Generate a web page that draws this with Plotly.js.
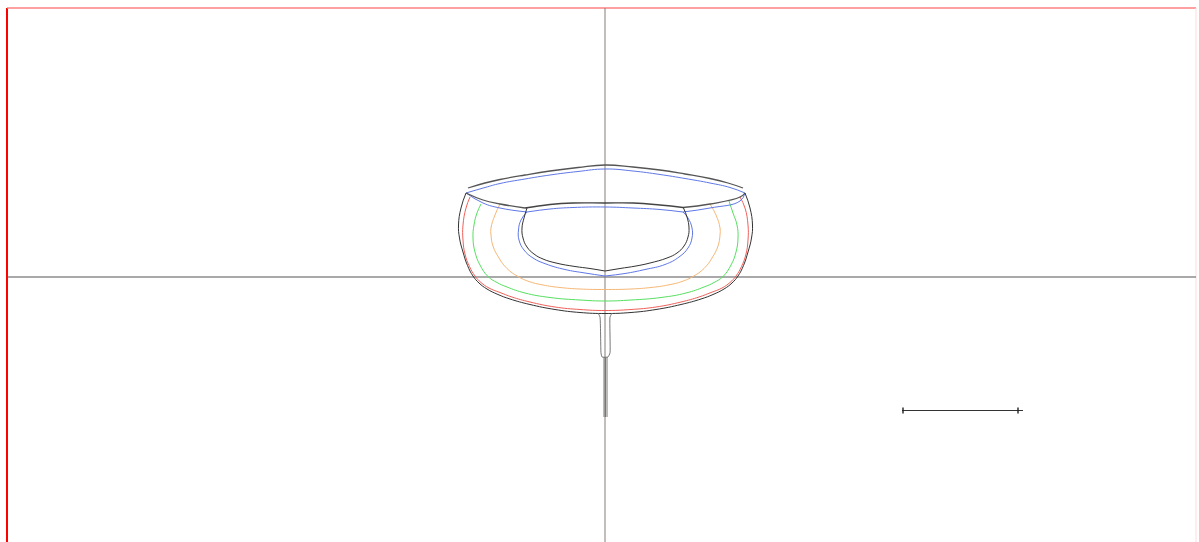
<!DOCTYPE html>
<html><head><meta charset="utf-8">
<script src="https://cdn.plot.ly/plotly-3.0.1.min.js"></script>
<style>html,body{margin:0;padding:0;background:#fff}#c{width:1199px;height:542px}</style>
</head><body><div id="c"></div>
<script>
// Section values, in picture units
const sheerBlackX=[468,485,500,525,550,578,605,633,660,685,710,728,743];
const sheerBlackY=[188,183,179.5,175,171,167.5,165,167,170,174,178.5,183,188];
const sheerBlueX=[466,485,500,525,550,578,605,633,660,685,710,730,745];
const sheerBlueY=[193,187.5,183.5,179,175,171.5,169,171,174.5,178.5,183,187.5,193];
const deckLeftX=[466,483,500,525];
const deckLeftY=[193,200,204,208];
const deckMidX=[525,550,573,605,633,660,683];
const deckMidY=[208,204.5,203,203,203,205,207.5];
const deckRightX=[683,710,740,745];
const deckRightY=[207.5,204,197,193];
const deckBlueLeftX=[466,483,500,527];
const deckBlueLeftY=[193,203,208,212];
const deckBlueMidX=[527,550,573,605,633,660,683];
const deckBlueMidY=[212,209,207.5,207,208,209.5,212];
const deckBlueRightX=[683,710,740,745];
const deckBlueRightY=[212,208,201,193];
const hullX=[466,461,458.5,459.5,463,467.5,473,479,487,498,510,530,555,580,605,631,656,681,701,713,724,732,738,743.5,748,751.5,752.5,750,745];
const hullY=[193,208,225,238,252,265.5,276,283,289,294.5,299,304.5,309.5,312.5,313.5,312.5,309.5,304.5,299,294.5,289,283,276,265.5,252,238,225,208,193];
const redX=[470,466,463,463,465,469.5,475,481,489,500,512,530,555,580,605,631,656,681,699,711,722,730,736,741.5,746,748,748,745,740];
const redY=[197,208,225,240,254,266.5,276,282.5,288,292.5,297,302,307,309.5,310.5,309.5,307,302,297,292.5,288,282.5,276,266.5,254,240,225,208,197];
const greenX=[481,477,474,473,475,480,488,497,507,525,550,580,605,631,661,686,704,714,723,731,736,738,737,733,729];
const greenY=[204,213,225,238,252,265,276.5,282.5,287,293,297.5,300,301,300,297.5,293,287,282.5,276.5,265,252,238,225,213,201];
const orangeX=[500,495,491,491,493,499,507,518,529,543,560,580,605,631,651,668,682,693,704,712,718,720,720,716,710];
const orangeY=[204,215,228,235,246,258,268.5,276.5,281.5,285,287.5,289,289.5,289,287.5,285,281.5,276.5,268.5,258,246,235,228,215,204];
const innerBlueLeftX=[527,521,518.5,519,524,533,546,565,585,605];
const innerBlueLeftY=[212,220,230,240,250,258,264,269.5,273,276];
const innerBlueRightX=[605,625,645,665,679,688,692,692,688,683];
const innerBlueRightY=[276,273.5,269.5,264.5,257,248,238,228,218,212];
const innerBlackLeftX=[527,524,522,523,527,534,543,556,575,590,605];
const innerBlackLeftY=[208,218,228,238,247,254,259,263,266.5,268.5,271];
const innerBlackRightX=[605,620,636,650,667,677,684,688,689,687,683];
const innerBlackRightY=[271,268.5,266,263,258,253,246,237,228,217,207];
const finX=[598,600,601,602,608,610,610,612];
const finY=[313,317,353,357,357,353,317,313];
const strutX=[604,605.5,607];
const strutTop=357, strutBottom=417;
const axisV=605, axisH=277, plotLeft=7, plotRight=1196, plotTop=8, plotBottom=542;
const scaleX=[902,1023], scaleY=410.5, scaleTicks=[903,1018];

const BLACK='#333', BLUE='#5f78e6', RED='#f0605a', GREEN='#55e05f', ORANGE='#f5b878';
function curve(x,y,color,w,o){return {x,y,type:'scatter',mode:'lines',hoverinfo:'skip',
  line:Object.assign({color,width:w||1,shape:'spline',smoothing:1.3},o||{})};}
function straight(x,y,color,w){return {x,y,type:'scatter',mode:'lines',hoverinfo:'skip',line:{color,width:w||1}};}
const traces=[
  straight([plotLeft,plotLeft],[plotTop,plotBottom],'#ff0000',2),
  straight([plotLeft,plotRight],[plotTop,plotTop],'#ff8080',1.4),
  straight([plotRight,plotRight],[plotTop,plotBottom],'#ffdcdc',1),
  straight([plotLeft,plotRight],[axisH,axisH],'#555',1.2),
  straight([axisV,axisV],[plotTop,plotBottom],'#8a7878',1),
  curve(redX,redY,RED),curve(greenX,greenY,GREEN),curve(orangeX,orangeY,ORANGE),
  curve(innerBlueLeftX,innerBlueLeftY,BLUE),curve(innerBlueRightX,innerBlueRightY,BLUE),
  curve(sheerBlueX,sheerBlueY,BLUE),curve(deckBlueLeftX,deckBlueLeftY,BLUE),
  curve(deckBlueMidX,deckBlueMidY,BLUE),curve(deckBlueRightX,deckBlueRightY,BLUE),
  curve(sheerBlackX,sheerBlackY,'#555',1.3),curve(deckLeftX,deckLeftY,'#555',1.3),
  curve(deckMidX,deckMidY,'#444',1.3),curve(deckRightX,deckRightY,'#555',1.3),
  curve(hullX,hullY,BLACK),curve(innerBlackLeftX,innerBlackLeftY,BLACK),
  curve(innerBlackRightX,innerBlackRightY,BLACK),
  curve(finX,finY,'#777',1,{smoothing:0.4}),
  ...strutX.map(x=>straight([x,x],[strutTop,strutBottom],'#777',1)),
  straight(scaleX,[scaleY,scaleY],'#333',1),
  ...scaleTicks.map(x=>straight([x,x],[scaleY-3,scaleY+3],'#222',1.4))
];
const hidden={visible:false,fixedrange:true};
Plotly.newPlot('c',traces,{
  width:1199,height:542,margin:{l:0,r:0,t:0,b:0},showlegend:false,
  paper_bgcolor:'#fff',plot_bgcolor:'#fff',
  xaxis:Object.assign({range:[0,1199]},hidden),
  yaxis:Object.assign({range:[542,0]},hidden)
},{staticPlot:true,displayModeBar:false});
</script></body></html>
